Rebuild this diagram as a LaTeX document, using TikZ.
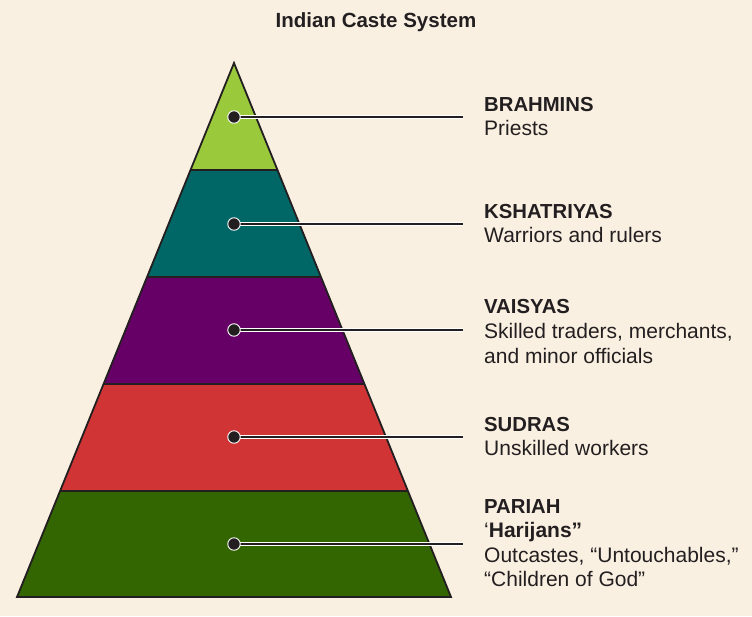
\documentclass[tikz,border=0pt]{standalone}
\usepackage{fontspec}
\setmainfont{Liberation Sans}
\definecolor{bg}{HTML}{FAF0E2}
\definecolor{ink}{HTML}{231F20}
\definecolor{cBrahmin}{HTML}{9ACA3C}
\definecolor{cKshatriya}{HTML}{006666}
\definecolor{cVaisya}{HTML}{660066}
\definecolor{cSudra}{HTML}{D03434}
\definecolor{cPariah}{HTML}{336600}
\begin{document}
\begin{tikzpicture}[x=1pt,y=-1pt,
  dot/.style={circle,fill=ink,draw=white,line width=0.9pt,minimum size=12.5pt,inner sep=0pt},
  halo/.style={white,line width=4pt},
  conn/.style={ink,line width=1.7pt},
  head/.style={anchor=base west,inner sep=0pt,text=ink,font=\fontsize{20.3}{24}\selectfont\bfseries},
  desc/.style={anchor=base west,inner sep=0pt,text=ink,font=\fontsize{21}{24}\selectfont},
  outline/.style={ink,line width=1.8pt,line join=miter}]
\fill[bg] (0,0) rectangle (752,616);
\useasboundingbox (0,0) rectangle (752,616);
% title
\node[anchor=base,inner sep=0pt,text=ink,font=\fontsize{20.5}{24}\selectfont\bfseries] (title) at (376,27) {Indian Caste System};
% bands
\fill[cBrahmin] (234,63) -- (277.5,170) -- (190.5,170) -- cycle;
\fill[cKshatriya] (190.5,170) -- (277.5,170) -- (321,277) -- (147,277) -- cycle;
\fill[cVaisya] (147,277) -- (321,277) -- (364,384) -- (104,384) -- cycle;
\fill[cSudra] (104,384) -- (364,384) -- (408,491) -- (60,491) -- cycle;
\fill[cPariah] (60,491) -- (408,491) -- (451,597) -- (17,597) -- cycle;
\draw[outline] (190.5,170) -- (277.5,170);
\draw[outline] (147,277) -- (321,277);
\draw[outline] (104,384) -- (364,384);
\draw[outline] (60,491) -- (408,491);
\draw[outline] (234,63) -- (451,597) -- (17,597) -- cycle;
% connectors
\coordinate (e1) at (463,117);
\coordinate (e2) at (463,224);
\coordinate (e3) at (463,330);
\coordinate (e4) at (463,437);
\coordinate (e5) at (463,544);
\coordinate (s1) at (234,117);
\coordinate (s2) at (234,224);
\coordinate (s3) at (234,330);
\coordinate (s4) at (234,437);
\coordinate (s5) at (234,544);
\foreach \i in {1,...,5}{
  \draw[halo] (s\i) -- (e\i);
  \draw[conn] (s\i) -- (e\i);
}
\node[dot] (d1) at (s1) {};
\node[dot] (d2) at (s2) {};
\node[dot] (d3) at (s3) {};
\node[dot] (d4) at (s4) {};
\node[dot] (d5) at (s5) {};
% labels
\node[head] (h1) at (484,111) {BRAHMINS};
\node[desc] (t1) at (484,135) {Priests};
\node[head] (h2) at (484,218) {KSHATRIYAS};
\node[desc] (t2) at (484,242) {Warriors and rulers};
\node[head] (h3) at (484,313) {VAISYAS};
\node[desc] (t3a) at (484,338) {Skilled traders, merchants,};
\node[desc] (t3b) at (484,363) {and minor officials};
\node[head] (h4) at (484,431) {SUDRAS};
\node[desc] (t4) at (484,455) {Unskilled workers};
\node[head] (h5) at (484,513) {PARIAH};
\node[desc] (t5a) at (484,537) {‘\textbf{Harijans”}};
\node[desc] (t5b) at (484,562) {Outcastes, “Untouchables,”};
\node[desc] (t5c) at (484,586) {“Children of God”};
\end{tikzpicture}
\end{document}
